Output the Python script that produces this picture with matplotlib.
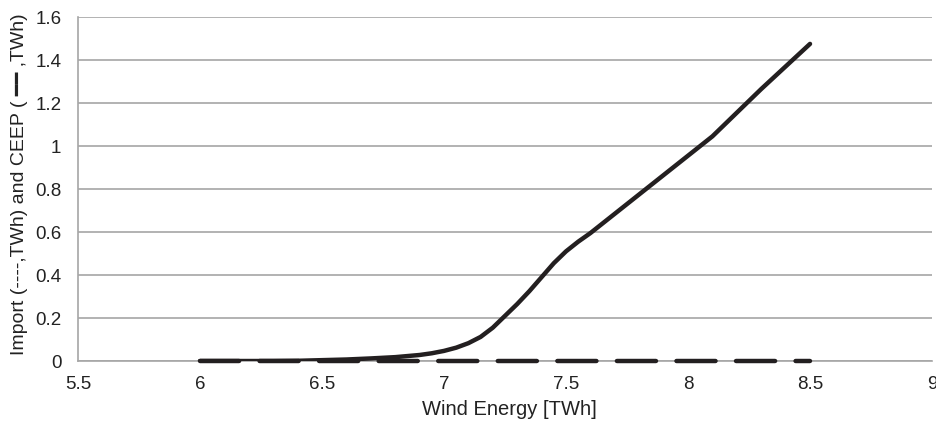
import numpy as np
import matplotlib.pyplot as plt

plt.rcParams['font.family'] = ['Liberation Sans', 'DejaVu Sans']

# wind energy [TWh]
wind = [6.0, 6.1, 6.2, 6.3, 6.4, 6.5, 6.6, 6.7, 6.8, 6.9, 6.95, 7.0, 7.05,
        7.1, 7.15, 7.2, 7.25, 7.3, 7.35, 7.4, 7.45, 7.5, 7.55, 7.6, 7.7,
        7.8, 7.9, 8.0, 8.1, 8.2, 8.3, 8.4, 8.5]
# CEEP [TWh]
ceep = [0.0, 0.0, 0.0, 0.0, 0.001, 0.004, 0.007, 0.012, 0.018, 0.028,
        0.036, 0.047, 0.062, 0.083, 0.112, 0.155, 0.21, 0.265, 0.325,
        0.39, 0.455, 0.51, 0.555, 0.595, 0.685, 0.775, 0.865, 0.955,
        1.045, 1.155, 1.265, 1.37, 1.475]
# import [TWh]
imp = [0.0] * len(wind)

x_ticks = [5.5, 6, 6.5, 7, 7.5, 8, 8.5, 9]
x_labels = ['5.5', '6', '6.5', '7', '7.5', '8', '8.5', '9']
y_ticks = [0, 0.2, 0.4, 0.6, 0.8, 1.0, 1.2, 1.4, 1.6]
y_labels = ['0', '0.2', '0.4', '0.6', '0.8', '1', '1.2', '1.4', '1.6']

fig = plt.figure(figsize=(9.37, 4.21), dpi=100)
ax = fig.add_axes([0.0832, 0.1425, 0.9115, 0.8171])

line_col = '#231f20'
grid_col = '#a6a6a6'
text_col = '#222222'

ax.plot(wind, ceep, color=line_col, lw=3.2, solid_capstyle='round',
        solid_joinstyle='round', zorder=3)
ax.plot(wind, imp, color=line_col, lw=3.2, dashes=(8.8, 4.6),
        dash_capstyle='round', clip_on=False, zorder=4)

ax.set_xlim(5.5, 9)
ax.set_ylim(0, 1.6)
ax.set_xticks(x_ticks)
ax.set_xticklabels(x_labels)
ax.set_yticks(y_ticks)
ax.set_yticklabels(y_labels)

ax.yaxis.grid(True, color=grid_col, lw=1.2)
ax.set_axisbelow(True)
for side in ['top', 'right']:
    ax.spines[side].set_visible(False)
for side in ['left', 'bottom']:
    ax.spines[side].set_color(grid_col)
    ax.spines[side].set_linewidth(1.2)
ax.tick_params(axis='both', length=0, labelsize=13.5, colors=text_col)
ax.tick_params(axis='y', pad=12)
ax.tick_params(axis='x', pad=11)

ax.set_xlabel('Wind Energy [TWh]', fontsize=14.5, color=text_col)
ax.xaxis.set_label_coords(0.505, -0.112)
ax.set_ylabel('Import (----,TWh) and CEEP ( \u2501\u2501 ,TWh)', fontsize=14,
              color=text_col)
ax.yaxis.set_label_coords(-0.059, 0.515)

fig.savefig('out.png', dpi=100)
